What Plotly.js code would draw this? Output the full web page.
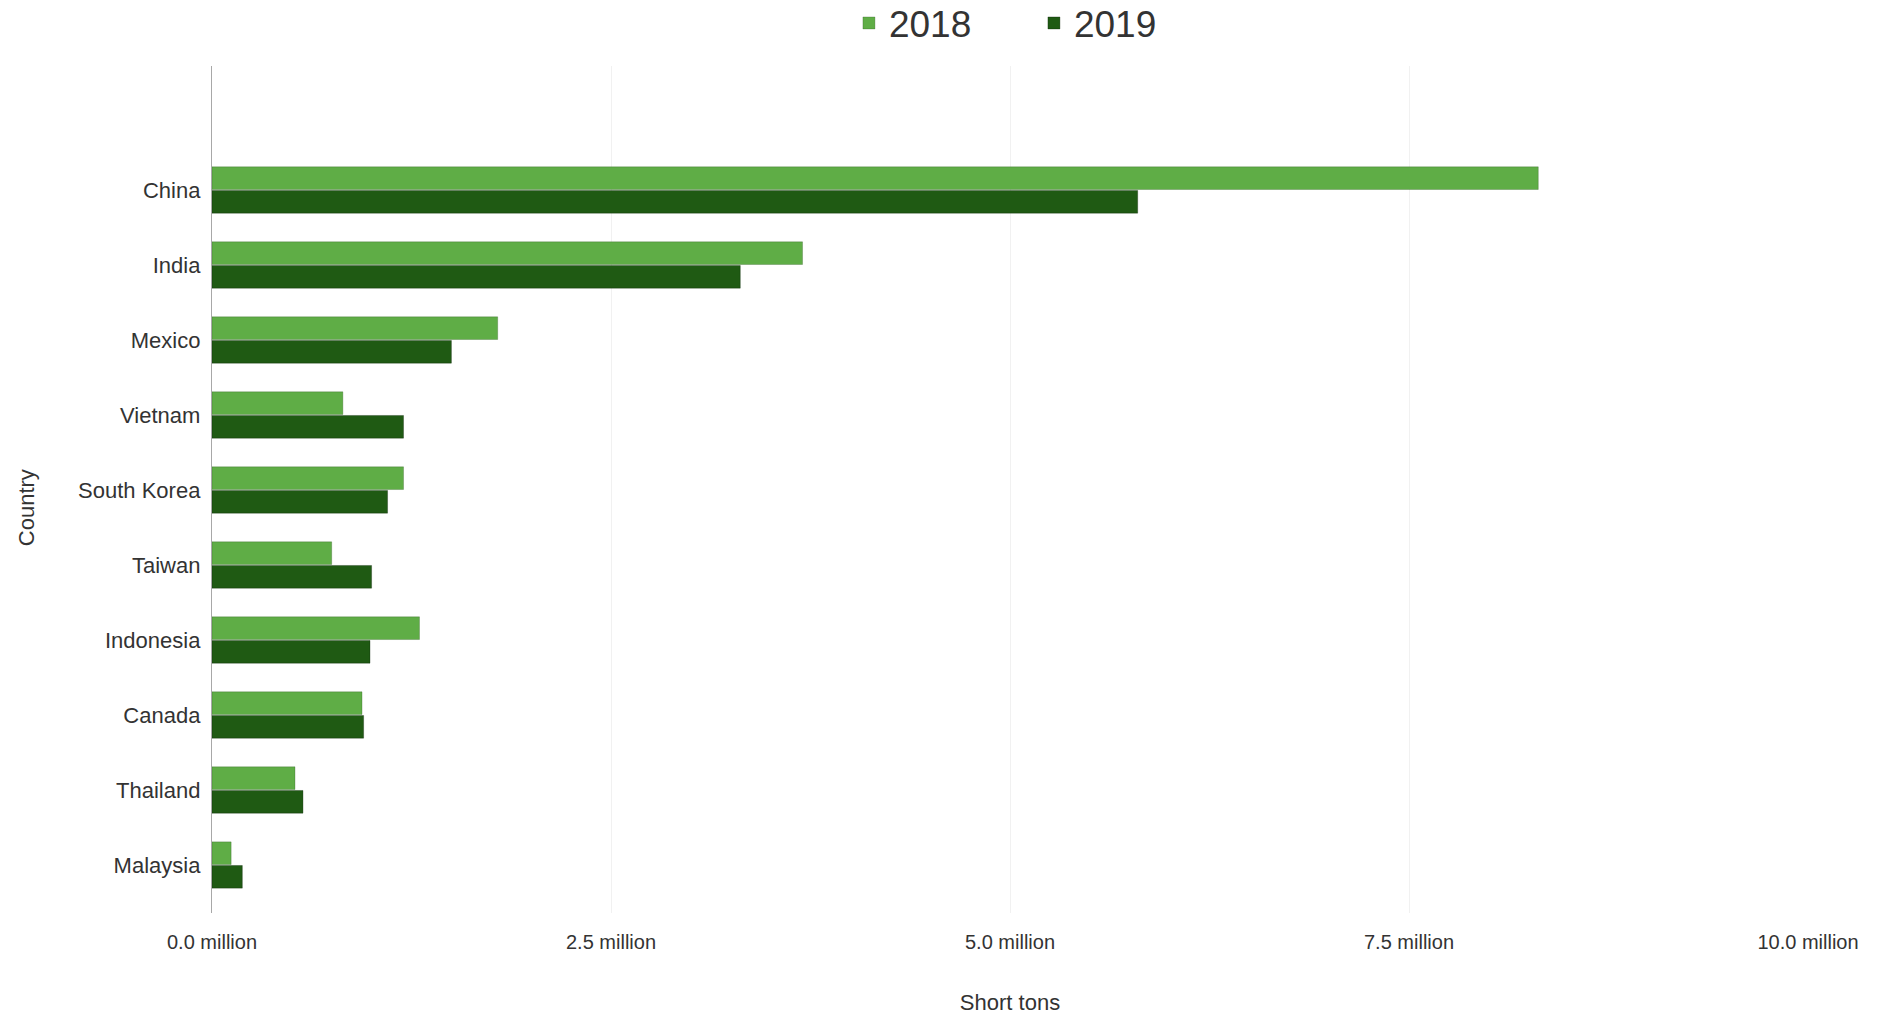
<!DOCTYPE html>
<html>
<head>
<meta charset="utf-8">
<script src="https://cdn.plot.ly/plotly-3.0.1.min.js"></script>
<style>
  html, body { margin: 0; padding: 0; background: #ffffff; }
  #chart { width: 1883px; height: 1018px; }
</style>
</head>
<body>
<div id="chart"></div>
<script>
// Data (short tons)
const countries = ["China", "India", "Mexico", "Vietnam", "South Korea", "Taiwan", "Indonesia", "Canada", "Thailand", "Malaysia"];
const values2018 = [8.31e6, 3.70e6, 1.79e6, 0.82e6, 1.20e6, 0.75e6, 1.30e6, 0.94e6, 0.52e6, 0.12e6];
const values2019 = [5.80e6, 3.31e6, 1.50e6, 1.20e6, 1.10e6, 1.00e6, 0.99e6, 0.95e6, 0.57e6, 0.19e6];
const seriesNames = ["2018", "2019"];
const xTickVals = [0, 2.5e6, 5e6, 7.5e6, 10e6];
const xTickText = ["0.0 million", "2.5 million", "5.0 million", "7.5 million", "10.0 million"];

const FONT = "Liberation Sans, Arial, sans-serif";

const traces = [
  {
    type: "bar", orientation: "h", name: seriesNames[0],
    x: values2018, y: countries,
    marker: { color: "#5fad46", line: { color: "rgba(40,80,30,0.35)", width: 0.8 } },
    hoverinfo: "x+y"
  },
  {
    type: "bar", orientation: "h", name: seriesNames[1],
    x: values2019, y: countries,
    marker: { color: "#1f5a13", line: { color: "rgba(10,30,5,0.4)", width: 0.8 } },
    hoverinfo: "x+y"
  }
];

const layout = {
  width: 1883, height: 1018,
  paper_bgcolor: "#ffffff", plot_bgcolor: "#ffffff",
  font: { family: FONT, color: "#333333" },
  margin: { l: 212, r: 75, t: 66, b: 105 },
  barmode: "group",
  bargap: 0.37,
  bargroupgap: 0.04,
  showlegend: true,
  legend: {
    orientation: "h", x: 0.515, xanchor: "center",
    yref: "container", y: 0.977, yanchor: "middle",
    font: { size: 37, color: "#333333", family: FONT },
    entrywidth: 140
  },
  xaxis: {
    range: [0, 10e6],
    tickvals: xTickVals, ticktext: xTickText,
    tickfont: { size: 20, color: "#333333" },
    ticklabelstandoff: 15,
    showgrid: true, gridcolor: "#f1f1f1", gridwidth: 1,
    zeroline: false, showline: false, ticks: "",
    title: { text: "Short tons", font: { size: 22, color: "#333333" }, standoff: 42 },
    fixedrange: true
  },
  yaxis: {
    type: "category",
    categoryorder: "array", categoryarray: countries,
    range: [9.64, -1.653],
    tickfont: { size: 22, color: "#333333" },
    ticklabelstandoff: 6,
    showline: true, linecolor: "#a8a8a8", linewidth: 1.2,
    showgrid: false, zeroline: false, ticks: "",
    title: { text: "" },
    fixedrange: true
  },
  annotations: [
    {
      text: "Country", xref: "paper", yref: "paper",
      x: -0.1165, y: 0.478, xanchor: "center", yanchor: "middle",
      textangle: -90, showarrow: false,
      font: { size: 22, color: "#333333", family: FONT }
    }
  ]
};

Plotly.newPlot("chart", traces, layout, { displayModeBar: false, staticPlot: true });
</script>
</body>
</html>
